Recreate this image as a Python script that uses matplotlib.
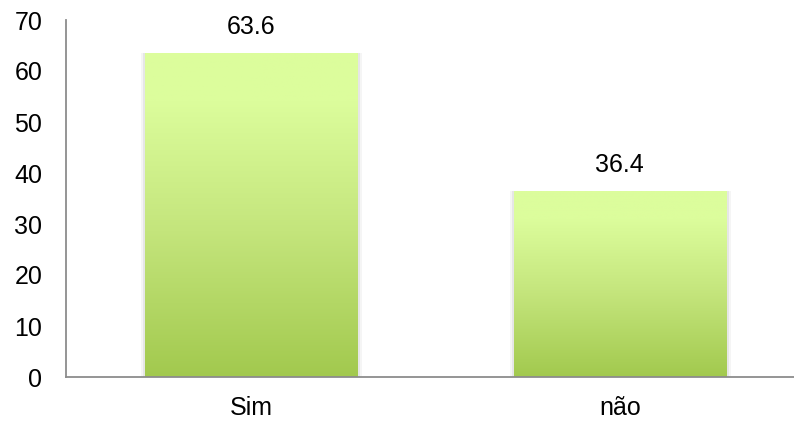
import numpy as np
import matplotlib
matplotlib.use("Agg")
import matplotlib.pyplot as plt
from matplotlib.colors import LinearSegmentedColormap

categories = ["Sim", "não"]
values = [63.6, 36.4]
value_labels = ["63.6", "36.4"]
y_ticks = [0, 10, 20, 30, 40, 50, 60, 70]

plt.rcParams["font.family"] = ["Liberation Sans", "DejaVu Sans"]

fig = plt.figure(figsize=(7.94, 4.23), dpi=100)
ax = fig.add_axes([66 / 794, 46 / 423, 1 - 66 / 794, (377 - 20) / 423])

x = np.arange(len(categories))
bar_w = 0.575
bars = ax.bar(x, values, width=bar_w, color="none", edgecolor="none", zorder=2)

# vertical gradient fill, light at top, darker green at the bottom
cmap = LinearSegmentedColormap.from_list(
    "grn", [(0.0, "#a2c94e"), (0.45, "#c4e57c"), (0.85, "#dcfd9c"), (1.0, "#dcfd9c")])
grad = np.linspace(0, 1, 256).reshape(-1, 1)
for b in bars:
    x0, w, h = b.get_x(), b.get_width(), b.get_height()
    # soft shadow around the bar
    for extra, a in [(0.022, 0.04), (0.012, 0.06)]:
        ax.bar(x0 + w / 2 + 0.002, h, width=w + extra, color="#000000", alpha=a,
               edgecolor="none", zorder=1.5)
    im = ax.imshow(grad, extent=[x0, x0 + w, 0, h], origin="lower", cmap=cmap,
                   aspect="auto", zorder=2.1)
    im.set_clip_path(b)

for xi, v, lab in zip(x, values, value_labels):
    ax.annotate(lab, (xi, v), xytext=(0, 10), textcoords="offset points",
                ha="center", va="bottom", fontsize=18, color="#000000")

ax.set_xlim(-0.501, 1.472)
ax.set_ylim(0, 70)
ax.set_yticks(y_ticks)
ax.set_xticks(x)
ax.set_xticklabels(categories)
ax.tick_params(axis="y", length=0, pad=17, labelsize=18)
ax.tick_params(axis="x", length=0, pad=14, labelsize=18)

for s in ["top", "right"]:
    ax.spines[s].set_visible(False)
for s in ["left", "bottom"]:
    ax.spines[s].set_color("#8c8c8c")
    ax.spines[s].set_linewidth(1.3)
ax.spines["left"].set_zorder(3)
ax.spines["bottom"].set_zorder(3)

fig.savefig("out.png", dpi=100)
